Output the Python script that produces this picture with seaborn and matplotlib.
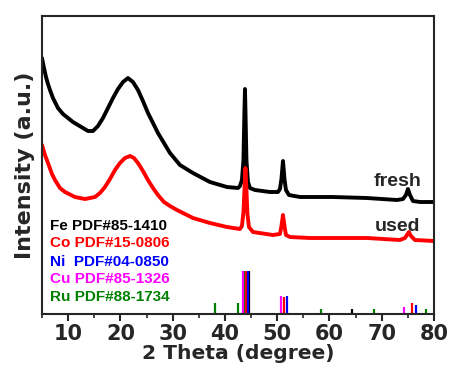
import matplotlib
matplotlib.use("Agg")
import matplotlib.pyplot as plt
import seaborn as sns
import pandas as pd
from matplotlib.ticker import MultipleLocator

sns.set_style("ticks")
plt.rcParams['font.family'] = ['Liberation Sans', 'DejaVu Sans']
plt.rcParams['font.weight'] = 'bold'

# fresh sample curve (2theta, intensity a.u.)
fresh_x = [5.00, 5.38, 5.77, 6.15, 6.53, 7.10, 8.06, 9.02, 9.97, 10.93, 11.89, 12.84, 13.80, 14.76,
           15.71, 16.67, 17.63, 18.58, 19.54, 20.50, 21.45, 22.41, 23.37, 24.32, 25.28, 26.24, 27.19,
           28.34, 29.49, 31.40, 33.89, 37.14, 40.39, 42.50, 42.88, 43.26, 43.55, 43.74, 43.84, 43.93,
           44.12, 44.41, 44.79, 45.75, 48.62, 50.15, 50.53, 50.82, 51.11, 51.40, 51.68, 52.26, 54.36,
           60.67, 67.18, 72.92, 74.07, 74.64, 75.02, 75.41, 75.98, 77.32, 80.00]
fresh_y = [256, 246, 237, 230, 224, 216, 206, 200, 196, 192, 189, 186, 183, 183,
           188, 196, 206, 216, 225, 232, 236, 232, 224, 213, 201, 191, 181,
           171, 161, 149, 141, 132, 127, 126, 128, 134, 154, 204, 225, 204,
           154, 132, 126, 124, 122, 122, 125, 135, 153, 135, 124, 119, 117,
           117, 116, 114, 115, 119, 125, 119, 113, 112, 112]

# used sample curve
used_x = [5.00, 5.57, 6.15, 6.91, 7.49, 8.44, 9.40, 11.31, 13.23, 15.14, 16.10, 17.05, 18.01, 18.97,
          19.92, 20.88, 21.84, 22.60, 23.37, 24.32, 25.28, 26.24, 27.19, 28.34, 29.49, 30.83, 33.89,
          37.14, 40.39, 42.88, 43.26, 43.55, 43.74, 43.93, 44.12, 44.31, 44.60, 45.37, 49.19, 50.53,
          50.82, 51.11, 51.40, 51.68, 52.45, 56.27, 67.18, 73.49, 74.45, 74.83, 75.21, 75.60, 76.36, 80.00]
used_y = [169, 159, 151, 140, 134, 126, 122, 117, 115, 117, 121, 127, 135, 144,
          151, 156, 158, 156, 151, 143, 134, 126, 119, 112, 108, 104, 96,
          91, 87, 85, 88, 102, 124, 146, 124, 100, 87, 82, 79, 80,
          88, 99, 88, 79, 77, 76, 76, 74, 76, 79, 82, 78, 74, 73]

# reference patterns (stick positions and heights)
fe_pos = [44.6, 64.3]
fe_h = [43, 5]
co_pos = [44.0, 51.4, 75.8]
co_h = [43, 17, 11]
ni_pos = [44.5, 51.9, 76.5]
ni_h = [43, 18, 9]
cu_pos = [43.5, 50.7, 74.3]
cu_h = [43, 18, 7]
ru_pos = [38.1, 42.6, 43.7, 58.3, 68.5, 78.5]
ru_h = [11, 11, 43, 5, 5, 5]

legend_labels = ["Fe PDF#85-1410", "Co PDF#15-0806", "Ni  PDF#04-0850",
                 "Cu PDF#85-1326", "Ru PDF#88-1734"]
legend_colors = ["black", "#ff0000", "#0000ff", "#ff00ff", "#008000"]

fig = plt.figure(figsize=(4.49, 3.76), dpi=100)
ax = fig.add_axes([0.0935, 0.1649, 0.873, 0.7925])

df_f = pd.DataFrame({"x": fresh_x, "y": fresh_y})
df_u = pd.DataFrame({"x": used_x, "y": used_y})
sns.lineplot(data=df_f, x="x", y="y", ax=ax, color="black", lw=2.8, sort=False)
sns.lineplot(data=df_u, x="x", y="y", ax=ax, color="#ff0000", lw=2.8, sort=False)

for pos, h, c in [(ru_pos, ru_h, "#008000"), (cu_pos, cu_h, "#ff00ff"),
                  (co_pos, co_h, "#ff0000"), (fe_pos, fe_h, "black"),
                  (ni_pos, ni_h, "#0000ff")]:
    ax.vlines(pos, 0, h, colors=c, lw=1.6)

ax.set_xlim(5, 80)
ax.set_ylim(0, 298)
ax.set_xticks([10, 20, 30, 40, 50, 60, 70, 80])
ax.xaxis.set_minor_locator(MultipleLocator(5))
ax.set_yticks([])
ax.tick_params(axis='x', which='major', direction='out', length=5, width=1.5, pad=2)
ax.tick_params(axis='x', which='minor', direction='out', length=3, width=1.2)
wide = ['DejaVu Sans']
ax.set_xticklabels(["10", "20", "30", "40", "50", "60", "70", "80"],
                   fontsize=15, fontweight='bold', family=wide)
for s in ax.spines.values():
    s.set_linewidth(1.5)
    s.set_visible(True)

ax.set_xlabel("2 Theta (degree)", fontsize=14.6, fontweight='bold', family=wide, labelpad=0)
ax.set_ylabel("Intensity (a.u.)", fontsize=16, fontweight='bold', family=wide, labelpad=5)

ax.text(0.907, (314 - 181) / 298, "fresh", transform=ax.transAxes, ha='center', va='center',
        fontsize=14, fontweight='bold')
ax.text(0.907, (314 - 226) / 298, "used", transform=ax.transAxes, ha='center', va='center',
        fontsize=14, fontweight='bold')

ys = [226, 243, 262, 279, 297]
for lab, c, yp in zip(legend_labels, legend_colors, ys):
    ax.text((50 - 42) / 392, (314 - yp) / 298, lab, transform=ax.transAxes, ha='left',
            va='center', fontsize=11, fontweight='bold', color=c)

fig.savefig("out.png", dpi=100)
